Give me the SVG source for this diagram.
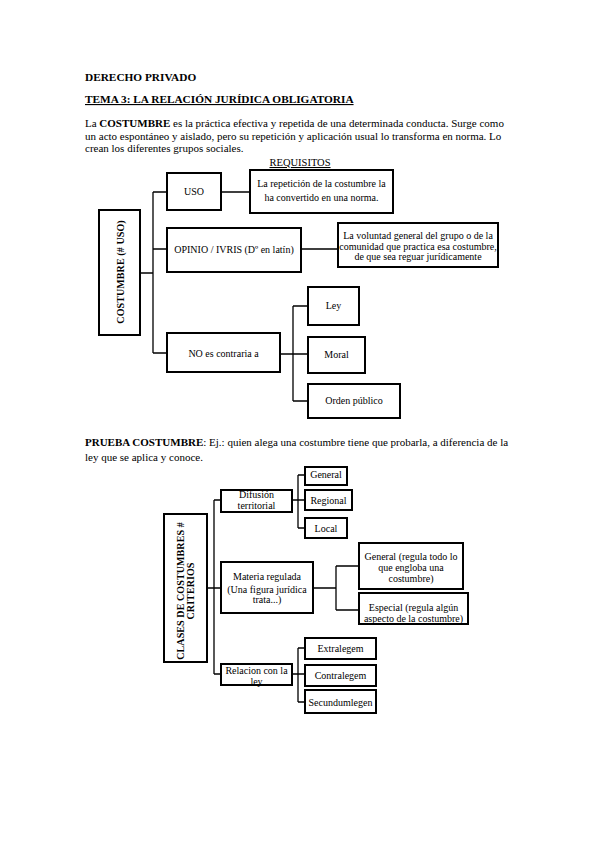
<svg xmlns="http://www.w3.org/2000/svg" width="599" height="848" viewBox="0 0 599 848">
<style>
.box{fill:#fff;stroke:#000;stroke-width:2}
.conn{fill:none;stroke:#000;stroke-width:1.3}
text{font-family:"Liberation Serif","Times New Roman",serif;fill:#000}
.h{font-size:11.3px;font-weight:bold}
.p{font-size:11px}
.t{font-size:10px;text-anchor:middle}
.s{font-size:10px;text-anchor:middle}
.v{font-size:10px;font-weight:bold;text-anchor:middle;letter-spacing:0.1px}
</style>
<rect width="599" height="848" fill="#fff"/>
<g id="header">
<text class="h" x="85" y="81">DERECHO PRIVADO</text>
<text class="h" x="85" y="103" text-decoration="underline">TEMA 3: LA RELACIÓN JURÍDICA OBLIGATORIA</text>
<text class="p" x="85" y="127">La <tspan font-weight="bold">COSTUMBRE</tspan> es la práctica efectiva y repetida de una determinada conducta. Surge como</text>
<text class="p" x="85" y="139.5">un acto espontáneo y aislado, pero su repetición y aplicación usual lo transforma en norma. Lo</text>
<text class="p" x="85" y="152">crean los diferentes grupos sociales.</text>
<text x="300" y="166" font-size="10.5" text-anchor="middle" text-decoration="underline">REQUISITOS</text>
</g>
<g id="connectors1">
<path class="conn" d="M140,273H153M153,192V353M153,192H167M153,249H167M153,353H167M221,192H250M301,249H338M280,354H308M293,306V401M293,306H308M293,401H308"/>
</g>
<g id="costumbre"><rect class="box" x="99" y="210" width="41" height="125"/><text class="v" transform="translate(123.5,272) rotate(-90)">COSTUMBRE (# USO)</text></g>
<g id="uso"><rect class="box" x="167" y="173" width="54" height="37"/><text class="t" x="194" y="195">USO</text></g>
<g id="uso-desc"><rect class="box" x="250" y="170" width="143" height="43"/><text class="s" x="321.5" y="187">La repetición de la costumbre la</text><text class="s" x="321.5" y="201">ha convertido  en una norma.</text></g>
<g id="opinio"><rect class="box" x="167" y="228" width="134" height="44"/><text class="t" x="234" y="253">OPINIO / IVRIS (Dº en latín)</text></g>
<g id="opinio-desc"><rect class="box" x="338" y="223" width="160" height="44"/><text class="s" x="418" y="239">La voluntad general del grupo o de la</text><text class="s" x="418" y="249.5">comunidad que practica esa costumbre,</text><text class="s" x="418" y="260">de que sea reguar jurídicamente</text></g>
<g id="no-contraria"><rect class="box" x="167" y="333" width="113" height="39"/><text class="t" x="223.5" y="357">NO es contraria a</text></g>
<g id="ley"><rect class="box" x="308" y="287" width="51" height="38"/><text class="t" x="333.5" y="309">Ley</text></g>
<g id="moral"><rect class="box" x="308" y="337" width="57" height="36"/><text class="t" x="336.5" y="358">Moral</text></g>
<g id="orden"><rect class="box" x="308" y="384" width="92" height="34"/><text class="t" x="354" y="404">Orden público</text></g>
<g id="prueba">
<text class="p" x="85" y="445.5"><tspan font-weight="bold">PRUEBA COSTUMBRE</tspan>: Ej.: quien alega una costumbre tiene que probarla, a diferencia de la</text>
<text class="p" x="85" y="460.5">ley que se aplica y conoce.</text>
</g>
<g id="connectors2">
<path class="conn" d="M207,588H214M214,500V674M214,500H221M214,588H221M214,674H221M292,500H305M298,475V528M298,475H305M298,528H305M313,588H336M336,566V610M336,566H359M336,610H359M292,674H305M298,648V702M298,648H305M298,702H305"/>
</g>
<g id="clases"><rect class="box" x="164" y="514" width="43" height="148"/><text class="v" transform="translate(183.5,591) rotate(-90)">CLASES DE COSTUMBRES #</text><text class="v" transform="translate(193.5,591) rotate(-90)">CRITERIOS</text></g>
<g id="difusion"><rect class="box" x="221" y="490" width="71" height="22"/><text class="t" x="256.5" y="498">Difusión</text><text class="t" x="256.5" y="509">territorial</text></g>
<g id="general"><rect class="box" x="305" y="467" width="42" height="18"/><text class="t" x="326" y="477.5">General</text></g>
<g id="regional"><rect class="box" x="305" y="490" width="47" height="20"/><text class="t" x="328.5" y="503.5">Regional</text></g>
<g id="local"><rect class="box" x="305" y="518" width="42" height="20"/><text class="t" x="326" y="531.5">Local</text></g>
<g id="materia"><rect class="box" x="221" y="562" width="92" height="51"/><text class="t" x="267" y="579.5">Materia regulada</text><text class="t" x="267" y="592.5">(Una figura jurídica</text><text class="t" x="267" y="602.5">trata...)</text></g>
<g id="general2"><rect class="box" x="359" y="543" width="104" height="46"/><text class="t" x="411" y="559.5">General (regula todo lo</text><text class="t" x="411" y="570.5">que engloba una</text><text class="t" x="411" y="581.5">costumbre)</text></g>
<g id="especial"><rect class="box" x="359" y="593" width="109" height="31"/><text class="t" x="413.5" y="610.5">Especial (regula algún</text><text class="t" x="413.5" y="621.5">aspecto de la costumbre)</text></g>
<g id="relacion"><rect class="box" x="221" y="664" width="71" height="21"/><text class="t" x="256.5" y="673.5">Relacion con la</text><text class="t" x="256.5" y="684.5">ley</text></g>
<g id="extralegem"><rect class="box" x="305" y="638" width="71" height="21"/><text class="t" x="340.5" y="651.5">Extralegem</text></g>
<g id="contralegem"><rect class="box" x="305" y="665" width="71" height="21"/><text class="t" x="340.5" y="678.5">Contralegem</text></g>
<g id="secundumlegen"><rect class="box" x="305" y="690" width="71" height="23"/><text class="t" x="340.5" y="705.5">Secundumlegen</text></g>
</svg>
